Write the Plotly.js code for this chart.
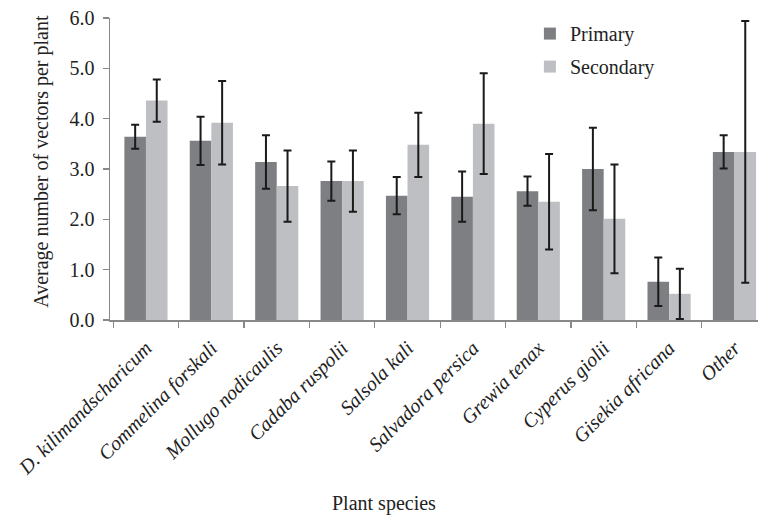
<!DOCTYPE html>
<html>
<head>
<meta charset="utf-8">
<script src="https://cdn.plot.ly/plotly-3.0.1.min.js"></script>
<style>
html,body{margin:0;padding:0;background:#fff;}
#chart{width:758px;height:518px;}
</style>
</head>
<body>
<div id="chart"></div>
<script>
var species = ["D. kilimandscharicum", "Commelina forskali", "Mollugo nodicaulis", "Cadaba ruspolii", "Salsola kali", "Salvadora persica", "Grewia tenax", "Cyperus giolii", "Gisekia africana", "Other"];
var primary = [3.64, 3.56, 3.14, 2.76, 2.47, 2.45, 2.56, 3.00, 0.76, 3.34];
var primaryErr = [0.24, 0.48, 0.53, 0.39, 0.37, 0.50, 0.29, 0.82, 0.48, 0.33];
var secondary = [4.36, 3.92, 2.66, 2.76, 3.48, 3.90, 2.35, 2.01, 0.52, 3.34];
var secondaryErr = [0.42, 0.83, 0.71, 0.61, 0.64, 1.00, 0.95, 1.08, 0.50, 2.60];
var yTicks = [0, 1, 2, 3, 4, 5, 6];
var yTickText = ["0.0", "1.0", "2.0", "3.0", "4.0", "5.0", "6.0"];
var xTitle = "Plant species";
var yTitle = "Average number of vectors per plant";

var serif = "Liberation Serif, Times New Roman, serif";
var errStyle = {type: "data", visible: true, color: "#1a1a1a", thickness: 2, width: 4};

var traces = [
  {type: "bar", name: "Primary", x: species, y: primary, legendgroup: "p",
   marker: {color: "#7e7f83"},
   error_y: Object.assign({array: primaryErr}, errStyle)},
  {type: "bar", name: "Secondary", x: species, y: secondary, legendgroup: "s",
   marker: {color: "#bebfc3"},
   error_y: Object.assign({array: secondaryErr}, errStyle)}
];

var layout = {
  width: 758, height: 518,
  margin: {l: 110, r: 0, t: 18, b: 198},
  paper_bgcolor: "#fff", plot_bgcolor: "#fff",
  font: {family: serif, color: "#222", size: 19},
  barmode: "group", bargap: 0.34, bargroupgap: 0,
  showlegend: true,
  legend: {x: 0.648, y: 1.013, xanchor: "left", yanchor: "top",
           traceorder: "grouped", tracegroupgap: 4,
           font: {family: serif, size: 20, color: "#222"}, bgcolor: "rgba(0,0,0,0)",
           itemwidth: 30},
  xaxis: {
    type: "category", range: [-0.55, 9.36],
    tickangle: -45, tickson: "boundaries", ticks: "outside", ticklen: 6,
    tickcolor: "#888", tickwidth: 1.3, ticklabelstandoff: 7,
    showline: true, linecolor: "#888", linewidth: 1.5,
    showgrid: false, zeroline: false,
    tickfont: {family: serif, size: 20, style: "italic", color: "#222"},
    automargin: false
  },
  yaxis: {
    range: [0, 6], tickvals: yTicks, ticktext: yTickText,
    ticks: "outside", ticklen: 6, tickcolor: "#888", tickwidth: 1.3, ticklabelstandoff: 4,
    showline: true, linecolor: "#888", linewidth: 1.5,
    showgrid: false, zeroline: false,
    tickfont: {family: serif, size: 20, color: "#222"},
    automargin: false
  },
  annotations: [
    {text: xTitle, xref: "paper", yref: "paper", x: 0.423, y: -0.609,
     xanchor: "center", yanchor: "middle", showarrow: false,
     font: {family: serif, size: 20, color: "#222"}},
    {text: yTitle, xref: "paper", yref: "paper", x: -0.107, y: 0.526, textangle: -90,
     xanchor: "center", yanchor: "middle", showarrow: false,
     font: {family: serif, size: 20, color: "#222"}}
  ]
};

Plotly.newPlot("chart", traces, layout, {displayModeBar: false, staticPlot: true});
</script>
</body>
</html>
